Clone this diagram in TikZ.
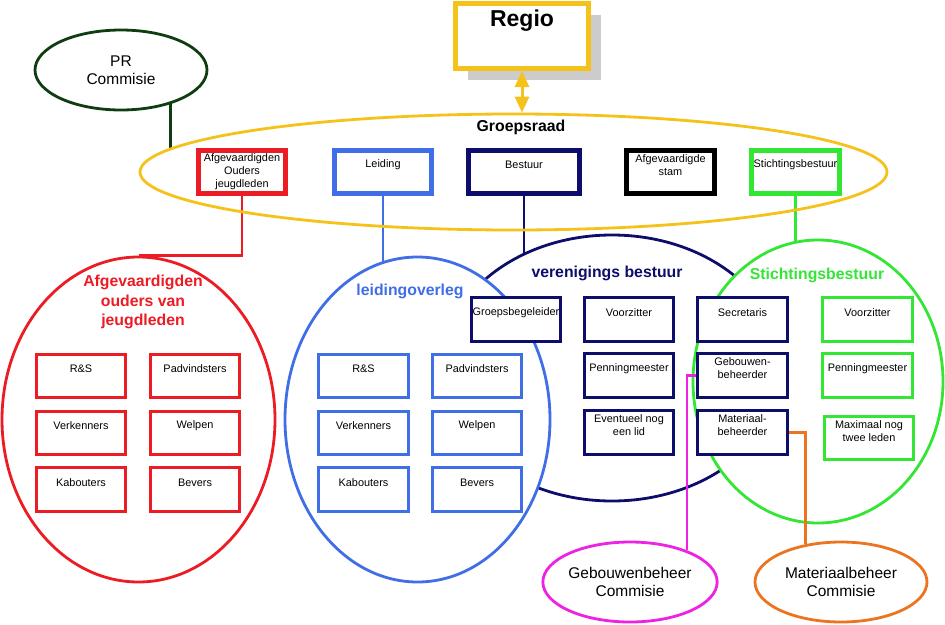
\documentclass[tikz,border=0pt]{standalone}
\usepackage{fontspec}
\setmainfont{Liberation Sans}
\usepackage{tikz}
\usetikzlibrary{positioning, arrows.meta, shapes.geometric, shadows, backgrounds}
\definecolor{RaadYellow}{HTML}{F5C21B}
\definecolor{OudersRed}{HTML}{EC1C24}
\definecolor{LeidingBlue}{HTML}{3F6EE6}
\definecolor{BestuurNavy}{HTML}{0D0D6B}
\definecolor{StichtingGreen}{HTML}{33E633}
\definecolor{PrGreen}{HTML}{0F3D12}
\definecolor{GebouwPink}{HTML}{EE22E2}
\definecolor{MateriaalOrange}{HTML}{EC7420}
\definecolor{ShadowGray}{HTML}{CCCCCC}
\newcommand{\boxfont}{\fontsize{10.9}{13}\selectfont}
\newcommand{\commfont}{\fontsize{15.5}{18.5}\selectfont}
\newcommand{\titlefont}{\bfseries\fontsize{15.8}{19.5}\selectfont}
\newcommand{\regiofont}{\bfseries\fontsize{23}{27}\selectfont}

\begin{document}
\begin{tikzpicture}[x=1pt, y=-1pt,
            raadbox/.style={draw=#1, line width=4.8pt, fill=white, minimum height=43.5pt, inner sep=0pt},
            unitbox/.style={draw=#1, line width=2.8pt, fill=white, minimum width=89.4pt, minimum height=43.4pt, inner sep=0pt},
            boxtext/.style={anchor=center, label distance=-16pt, align=center, font=\boxfont},
            group/.style={ellipse, draw=#1, line width=2.8pt, fill=white, inner sep=0pt},
            commissie/.style={ellipse, draw=#1, line width=2.8pt, fill=white, inner sep=0pt, align=center, font=\commfont},
            title/.style={text=#1, align=center, font=\titlefont},
            link/.style={draw=#1, line width=2.8pt}
        ]
            \useasboundingbox (0,0) rectangle (945,624);

            % Regio en groepsraad
            \node[draw=RaadYellow, line width=5pt, fill=white, minimum width=133pt, minimum height=65pt,
                  drop shadow={fill=ShadowGray, opacity=1, shadow xshift=12pt, shadow yshift=-11pt},
                  label={[anchor=center, label distance=-20pt, font=\regiofont]north:Regio}] (regio) at (522,36) {};

            \node[group=RaadYellow, fill=none, minimum width=747pt, minimum height=116pt] (gr) at (513.5,172) {};
            \node[title=black] (grtitle) at (521,127) {Groepsraad};

            \draw[RaadYellow, line width=3pt, {Triangle[width=14pt,length=16pt]}-{Triangle[width=14pt,length=16pt]}] (regio.south) -- (regio.south |- gr.north);

            \node[raadbox=OudersRed, minimum width=87.5pt, label={[boxtext, label distance=-24pt]north:Afgevaardigden\\Ouders\\jeugdleden}] (afg) at (242,172) {};
            \node[raadbox=LeidingBlue, minimum width=97.5pt, label={[boxtext, label distance=-17pt]north:Leiding}] (lei) at (383,172) {};
            \node[raadbox=BestuurNavy, minimum width=111.5pt, label={[boxtext, label distance=-17pt]north:Bestuur}] (bes) at (524,172) {};
            \node[raadbox=black, minimum width=88.5pt, label={[boxtext, label distance=-17pt]north:Afgevaardigde\\stam}] (stam) at (670.5,172) {};
            \node[raadbox=StichtingGreen, minimum width=88.5pt, label={[boxtext, label distance=-17pt]north:Stichtingsbestuur}] (sti) at (795.5,172) {};

            \node[commissie=PrGreen, minimum width=172pt, minimum height=80pt] (pr) at (121,70) {PR\\Commisie};

            % overleggen
            \node[group=BestuurNavy, minimum width=340pt, minimum height=266pt] (vb) at (612,368) {};
            \node[group=LeidingBlue, minimum width=265pt, minimum height=325pt] (lo) at (417.5,419.5) {};
            \node[group=OudersRed, minimum width=273pt, minimum height=325pt] (ao) at (138.5,419.5) {};
            \node[group=StichtingGreen, minimum width=250pt, minimum height=283pt] (sb) at (818,381.5) {};

            \node[title=OudersRed] (aotitle) at (143,302) {Afgevaardigden\\ouders van\\jeugdleden};
            \node[title=LeidingBlue] (lotitle) at (410,291) {leidingoverleg};
            \node[title=BestuurNavy] (vbtitle) at (607,273) {verenigings bestuur};
            \node[title=StichtingGreen] (sbtitle) at (817,275) {Stichtingsbestuur};

            % ouders
            \node[unitbox=OudersRed, label={[boxtext]north:R\&S}] (aRS) at (81,376) {};
            \node[unitbox=OudersRed, label={[boxtext]north:Padvindsters}] (aPad) at (195,376) {};
            \node[unitbox=OudersRed, label={[boxtext]north:Verkenners}] (aVer) at (81,433) {};
            \node[unitbox=OudersRed, label={[boxtext]north:Welpen}] (aWel) at (195,433) {};
            \node[unitbox=OudersRed, label={[boxtext]north:Kabouters}] (aKab) at (81,489.5) {};
            \node[unitbox=OudersRed, label={[boxtext]north:Bevers}] (aBev) at (195,489.5) {};

            % leiding
            \node[unitbox=LeidingBlue, label={[boxtext]north:R\&S}] (lRS) at (363.5,376) {};
            \node[unitbox=LeidingBlue, label={[boxtext]north:Padvindsters}] (lPad) at (477,376) {};
            \node[unitbox=LeidingBlue, label={[boxtext]north:Verkenners}] (lVer) at (363.5,433) {};
            \node[unitbox=LeidingBlue, label={[boxtext]north:Welpen}] (lWel) at (477,433) {};
            \node[unitbox=LeidingBlue, label={[boxtext]north:Kabouters}] (lKab) at (363.5,489.5) {};
            \node[unitbox=LeidingBlue, label={[boxtext]north:Bevers}] (lBev) at (477,489.5) {};

            % verenigings bestuur
            \node[unitbox=BestuurNavy, label={[boxtext]north:Groepsbegeleider}] (vGb) at (516,319.5) {};
            \node[unitbox=BestuurNavy, label={[boxtext]north:Voorzitter}] (vVz) at (629,319.5) {};
            \node[unitbox=BestuurNavy, label={[boxtext]north:Secretaris}] (vSec) at (742.5,319.5) {};
            \node[unitbox=BestuurNavy, label={[boxtext]north:Penningmeester}] (vPm) at (629,375.5) {};
            \node[unitbox=BestuurNavy, label={[boxtext]north:Eventueel nog\\een lid}] (vEv) at (629,432.5) {};
            \node[unitbox=BestuurNavy, label={[boxtext]north:Gebouwen-\\beheerder}] (vGeb) at (742.5,375.5) {};
            \node[unitbox=BestuurNavy, label={[boxtext]north:Materiaal-\\beheerder}] (vMat) at (742.5,432.5) {};

            % stichtingsbestuur
            \node[unitbox=StichtingGreen, label={[boxtext]north:Voorzitter}] (sVz) at (867.5,319.5) {};
            \node[unitbox=StichtingGreen, label={[boxtext]north:Penningmeester}] (sPm) at (867.5,375.5) {};
            \node[unitbox=StichtingGreen, label={[boxtext]north:Maximaal nog\\twee leden}] (sMax) at (869,438) {};

            % commissies
            \node[commissie=GebouwPink, minimum width=170pt, minimum height=80pt] (gc) at (630,582) {Gebouwenbeheer\\Commisie};
            \node[commissie=MateriaalOrange, minimum width=172pt, minimum height=80pt] (mc) at (841,582) {Materiaalbeheer\\Commisie};

            \draw[link=GebouwPink] (vGeb.west) -| (gc.29);
            \draw[link=MateriaalOrange] (vMat.east) -| (mc.133);

            \begin{scope}[on background layer]
                \draw[link=PrGreen] (pr.center -| gr.176) -- (gr.176);
                \draw[link=OudersRed] (afg.south) |- (ao.north);
                \draw[link=LeidingBlue] (lei.south) -- (lei.south |- lo.center);
                \draw[link=BestuurNavy] (bes.south) -- (bes.south |- vb.center);
                \draw[link=StichtingGreen] (sti.south) -- (sti.south |- sb.center);
            \end{scope}

        \end{tikzpicture}
\end{document}
